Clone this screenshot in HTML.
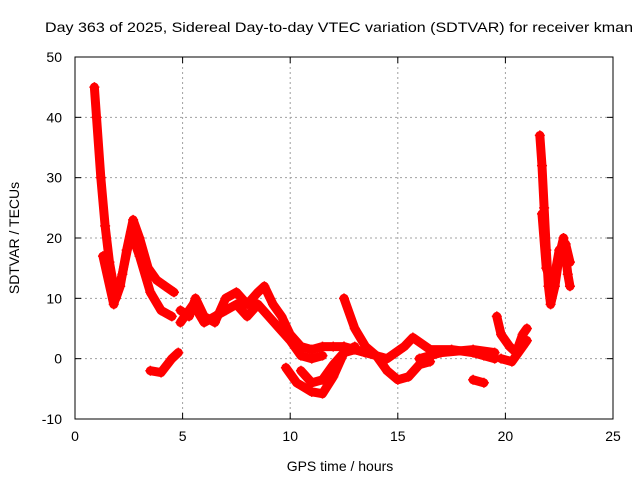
<!DOCTYPE html>
<html><head><meta charset="utf-8"><style>
body{margin:0;background:#fff}
svg text{font-family:"Liberation Sans",sans-serif;font-size:14px;fill:#000}
</style></head><body>
<svg width="640" height="480" xmlns="http://www.w3.org/2000/svg">
<rect width="640" height="480" fill="#fff"/>
<text x="45" y="32" textLength="588" lengthAdjust="spacingAndGlyphs">Day 363 of 2025, Sidereal Day-to-day VTEC variation (SDTVAR) for receiver kman</text>
<g id="grid"></g>
<g id="series"></g>
<rect x="75" y="57" width="538" height="362" fill="none" stroke="#000"/>
<g id="ticks"></g>
<text x="340" y="471" text-anchor="middle">GPS time / hours</text>
<text transform="translate(19,238) rotate(-90)" text-anchor="middle">SDTVAR / TECUs</text>
</svg>
<script>
const xTicks=[0,5,10,15,20,25];
const yTicks=[-10,0,10,20,30,40,50];
const traceA=[[0.9,45],[1.0,40],[1.2,30],[1.4,22],[1.6,16],[1.9,10],[2.1,12],[2.4,18],[2.7,23],[3.0,20],[3.4,15],[3.8,13],[4.2,12],[4.6,11]];
const traceB=[[1.3,17],[1.8,9],[2.2,14],[2.6,21],[3.0,17],[3.5,11],[4.0,8],[4.5,7]];
const traceC=[[3.5,-2],[4.0,-2.3],[4.5,0],[4.8,1]];
const traceD=[[4.9,8],[5.3,7],[5.6,10],[6.0,7],[6.5,6],[7.0,10],[7.5,11],[8.0,9],[8.5,11],[8.8,12],[9.2,9],[9.6,7],[10,4],[10.5,2],[11,1.5],[11.5,2],[12,2],[12.5,2]];
const traceE=[[4.9,6],[5.5,9],[6.0,6],[6.5,7],[7.0,8],[7.5,9],[8.0,7],[8.5,9],[9.0,7],[9.5,5],[10,3],[10.5,0.5],[11,0],[11.5,0.5]];
const traceF=[[9.8,-1.5],[10.3,-4],[11,-5.5],[11.5,-5.8],[12,-3],[12.5,1],[13,1.5],[13.5,1]];
const traceG=[[10.5,-2],[11,-4],[11.5,-3.5],[12,-1],[12.5,1],[13,2]];
const traceH=[[12.5,10],[13,5],[13.5,2],[14,0.5],[14.5,-2],[15,-3.5],[15.5,-3],[16,-1],[16.5,-0.5]];
const traceI=[[12.5,2],[13.5,1],[14.5,0],[15.3,2],[15.7,3.5],[16.5,1.5],[17.5,1.5],[18.5,1],[19,0.5],[19.5,0]];
const traceJ=[[16,0],[17,1],[18.5,1.5],[19.5,1]];
const traceK=[[18.5,-3.5],[19,-4]];
const traceL=[[19.6,7],[19.8,4],[20.2,2],[20.5,1],[20.8,4],[21.0,5]];
const traceM=[[19.8,0],[20.3,-0.5],[20.8,2],[21.0,3]];
const traceN=[[21.6,37],[21.7,32],[21.8,25],[21.9,18],[22.0,12],[22.1,9],[22.3,12],[22.5,17],[22.7,20],[22.9,14],[23.0,12]];
const traceO=[[21.7,24],[21.9,15],[22.2,12],[22.5,18],[22.8,19],[23.0,16]];
const traces=[traceA,traceB,traceC,traceD,traceE,traceF,traceG,traceH,traceI,traceJ,traceK,traceL,traceM,traceN,traceO];
const NS="http://www.w3.org/2000/svg";
const X=h=>75+(h-0)*538/25;
const Y=v=>419-(v+10)*362/60;
function mk(tag,attrs,parent){const e=document.createElementNS(NS,tag);for(const k in attrs)e.setAttribute(k,attrs[k]);parent.appendChild(e);return e;}
const grid=document.getElementById('grid'),ticks=document.getElementById('ticks'),ser=document.getElementById('series');
xTicks.forEach(t=>{
 if(t>0&&t<25){const l=mk('line',{x1:X(t),x2:X(t),y1:57,y2:419,stroke:'#a0a0a0','stroke-dasharray':'2,3'},grid);
 
 }
 mk('line',{x1:X(t),x2:X(t),y1:419,y2:413,stroke:'#000'},ticks);
 mk('line',{x1:X(t),x2:X(t),y1:57,y2:63,stroke:'#000'},ticks);
 const tx=mk('text',{x:X(t),y:441,'text-anchor':'middle'},ticks);tx.textContent=t;
 
 
});
yTicks.forEach(t=>{
 if(t>-10&&t<50){const l=mk('line',{x1:75,x2:613,y1:Y(t),y2:Y(t),stroke:'#a0a0a0','stroke-dasharray':'2,3'},grid);
 
 }
 mk('line',{x1:75,x2:81,y1:Y(t),y2:Y(t),stroke:'#000'},ticks);
 mk('line',{x1:613,x2:607,y1:Y(t),y2:Y(t),stroke:'#000'},ticks);
 const tx=mk('text',{x:62,y:Y(t)+5,'text-anchor':'end'},ticks);tx.textContent=t;
 
 
});
traces.forEach((tr,i)=>{
 const p=mk('polyline',{points:tr.map(d=>X(d[0])+','+Y(d[1])).join(' '),fill:'none',stroke:'#ff0000','stroke-width':9,'stroke-linejoin':'round','stroke-linecap':'round'},ser);
 
 
 tr.forEach(d=>{
  const m=mk('path',{d:`M${X(d[0])-5},${Y(d[1])}h10M${X(d[0])},${Y(d[1])-5}v10`,stroke:'#ff0000','stroke-width':1.5},ser);
  
  
 });
});
</script>
</body></html>
